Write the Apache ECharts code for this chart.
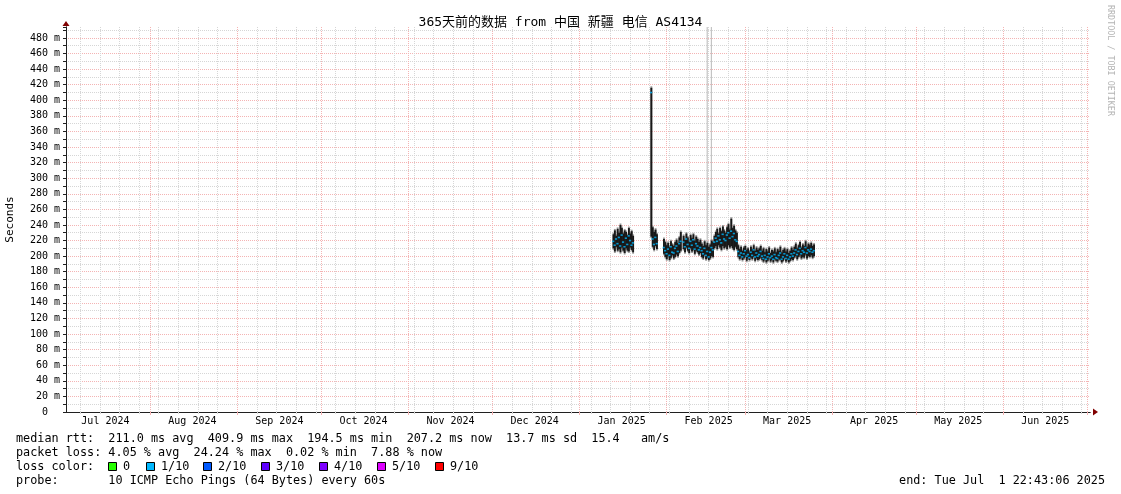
<!DOCTYPE html>
<html><head><meta charset="utf-8">
<script src="https://cdn.jsdelivr.net/npm/echarts@6/dist/echarts.min.js"></script>
<style>html,body{margin:0;padding:0;background:#fff}#c{width:1121px;height:494px}</style>
</head><body><div id="c"></div>
<script>
// ---------- data ----------
const TITLE = '365天前的数据 from 中国 新疆 电信 AS4134';
const START = Date.UTC(2024, 6, 1, 22, 43, 6);
const END = Date.UTC(2025, 6, 1, 22, 43, 6);
const monthLabels = ['Jul 2024','Aug 2024','Sep 2024','Oct 2024','Nov 2024','Dec 2024','Jan 2025','Feb 2025','Mar 2025','Apr 2025','May 2025','Jun 2025'];
const Y_MAX = 494;
const yMajor = 20, yMinor = 10;

// smoke / median samples every 12 h starting 2025-01-13 00:00 (null = no data)
const DATA_START = Date.UTC(2025, 0, 13);
const STEP = 12 * 3600 * 1000;
const N = null;
const smokeHigh = [
 228,233,226,235,230,240,236,229,233,231,227,236,229,232,226,
 N,N,N,N,N,N,N,N,N,N,N,N,
 416,237,231,234,228,
 N,N,N,N,
 222,218,214,217,212,219,215,213,218,221,217,224,231,
 N,
 226,221,229,224,219,227,223,228,220,225,222,218,221,
 216,213,219,214,217,212,215,220,218,
 226,231,235,229,236,232,238,233,230,237,241,234,248,236,239,233,230,
 214,209,212,207,211,213,208,210,206,212,209,214,207,211,208,210,213,
 207,210,205,209,206,211,204,208,206,210,205,209,207,212,205,208,210,206,209,204,207,211,208,
 212,216,210,214,218,211,215,213,219,212,216,214,217,213,215
];
const smokeLow = [
 210,206,212,207,209,205,211,207,204,210,207,206,211,208,205,
 N,N,N,N,N,N,N,N,N,N,N,N,
 225,212,208,213,209,
 N,N,N,N,
 203,199,196,200,195,198,201,197,199,202,200,204,207,
 N,
 209,205,211,207,204,210,206,208,203,207,205,202,204,
 199,197,201,196,198,195,197,200,199,
 210,213,209,214,211,208,213,210,212,209,214,211,213,210,208,212,209,
 199,196,198,195,197,199,194,197,195,198,196,199,194,197,195,196,198,
 195,193,196,192,194,197,193,195,192,196,194,193,196,195,192,194,197,193,195,192,194,196,195,
 198,200,196,199,201,197,199,198,202,197,200,199,201,198,200
];
const medianRtt = [
 219,214,222,216,224,213,227,218,212,223,215,226,220,214,217,
 N,N,N,N,N,N,N,N,N,N,N,N,
 409.9,222,215,224,216,
 N,N,N,N,
 211,207,203,209,201,212,205,204,210,213,206,216,219,
 N,
 218,212,222,215,210,219,214,221,209,216,213,208,211,
 207,203,210,201,206,199,205,211,208,
 218,223,219,226,221,217,228,222,220,227,230,223,232,225,229,221,219,
 206,201,204,199,203,207,200,202,198,205,201,208,199,204,200,202,206,
 200,197,201,196,199,203,198,200,196,202,198,197,201,204,196,199,203,197,201,196,199,203,200,
 204,208,202,206,210,203,207,205,211,204,208,206,209,205,207
];
// single pings far above the chart (light grey smoke spikes)
const outlierTimes = [Date.UTC(2025, 1, 15, 12), Date.UTC(2025, 1, 17, 0)];
const outlierFrom = [217, 215];
const outlierTo = [520, 520];

const rttStats = [211.0, 409.9, 194.5, 207.2, 13.7, 15.4];
const lossStats = [4.05, 24.24, 0.02, 7.88];
const lossLabels = ['0','1/10','2/10','3/10','4/10','5/10','9/10'];
const probeText = '10 ICMP Echo Pings (64 Bytes) every 60s';
const endText = 'end: Tue Jul  1 22:43:06 2025';

// ---------- styles ----------
const MONO = '"DejaVu Sans Mono", "Noto Sans CJK SC", monospace';
const lossColors = ['#26ff00','#00b8ff','#0059ff','#5e00ff','#7e00ff','#dd00ff','#ff0000'];
const MGRID = '#f4b4b4', GRID = '#d6d6d6', AXIS = '#202020', ARROW = '#800000';

// ---------- derived option data ----------
const DAY = 86400000;
const weekTicks = [];
for (let t = Date.UTC(2024, 6, 7); t <= END; t += 7 * DAY) weekTicks.push(t);
const monthTicks = [], labelTicks = [];
for (let k = 0; k < 12; k++) { monthTicks.push(Date.UTC(2024, 7 + k, 1)); labelTicks.push(Date.UTC(2024, 6 + k, 16)); }
const labelMap = new Map(labelTicks.map((t, i) => [t, monthLabels[i]]));

const smokeItems = [], medItems = [];
for (let i = 0; i < smokeHigh.length; i++) {
  const t = DATA_START + i * STEP;
  if (smokeHigh[i] != null) smokeItems.push([t, smokeLow[i], smokeHigh[i]]);
  if (medianRtt[i] != null) medItems.push([t, medianRtt[i]]);
}
const outlierItems = outlierTimes.map((t, i) => [t, outlierFrom[i], outlierTo[i]]);

function bandRender(pad, fill, fixedW) {
  return function (params, api) {
    const t = api.value(0);
    const a = api.coord([t - STEP / 2, api.value(2)]);
    const b = api.coord([t + STEP / 2, api.value(1)]);
    let x = a[0], w = b[0] - a[0] + 0.5;
    if (fixedW) { x = (a[0] + b[0]) / 2 - fixedW / 2; w = fixedW; }
    return { type: 'rect', shape: { x: x, y: a[1] - pad, width: w, height: b[1] - a[1] + 2 * pad },
      style: { fill: fill } };
  };
}

const colorCycle = [];
for (let v = 0; v <= 490; v += yMinor) colorCycle.push(v % yMajor === 0 ? MGRID : GRID);

const chart = echarts.init(document.getElementById('c'), null, { renderer: 'canvas' });

const graphics = [];
function txt(x, y, s, opts) {
  graphics.push(Object.assign({ type: 'text', x: x, y: y, silent: true,
    style: Object.assign({ text: s, font: '11.8px ' + MONO, fill: '#000', align: 'left', verticalAlign: 'middle' }, opts || {}) }));
}
const line1 = 'median rtt:  ' + rttStats[0].toFixed(1) + ' ms avg  ' + rttStats[1].toFixed(1) + ' ms max  ' +
  rttStats[2].toFixed(1) + ' ms min  ' + rttStats[3].toFixed(1) + ' ms now  ' + rttStats[4].toFixed(1) + ' ms sd  ' +
  rttStats[5].toFixed(1) + '   am/s';
const line2 = 'packet loss: ' + lossStats[0].toFixed(2) + ' % avg  ' + lossStats[1].toFixed(2) + ' % max  ' +
  lossStats[2].toFixed(2) + ' % min  ' + lossStats[3].toFixed(2) + ' % now';
txt(16, 439, line1);
txt(16, 453, line2);
txt(16, 467, 'loss color:');
const boxX = [108, 146, 203, 261, 319, 377, 435];
lossLabels.forEach((l, i) => {
  graphics.push({ type: 'rect', silent: true, shape: { x: boxX[i] + 0.5, y: 462.5, width: 8, height: 8 },
    style: { fill: lossColors[i], stroke: '#000', lineWidth: 1 } });
  txt(boxX[i] + 15, 467, l);
});
txt(16, 481, 'probe:       ' + probeText);
txt(1105, 481, endText, { align: 'right' });
graphics.push({ type: 'text', x: 1110, y: 5, rotation: -Math.PI / 2, silent: true,
  style: { text: 'RRDTOOL / TOBI OETIKER', font: '8.4px ' + MONO, fill: '#b4b4b4', align: 'left', verticalAlign: 'middle' } });

chart.setOption({
  animation: false,
  backgroundColor: '#ffffff',
  title: { text: TITLE, left: 'center', top: 11,
    textStyle: { fontFamily: MONO, fontSize: 13, fontWeight: 'normal', color: '#000' } },
  grid: { left: 66, right: 31, top: 27, bottom: 82, containLabel: false, outerBoundsMode: 'none' },
  xAxis: [
    { type: 'value', min: START, max: END, position: 'bottom', z: 1,
      axisLine: { show: true, onZero: false, lineStyle: { color: AXIS, width: 1 } },
      axisTick: { show: true, length: 2, lineStyle: { color: GRID }, customValues: weekTicks },
      axisLabel: { show: false },
      splitLine: { show: true, lineStyle: { color: GRID, width: 1, type: [1, 1] } } },
    { type: 'value', min: START, max: END, position: 'bottom', z: 1,
      axisLine: { show: false },
      axisTick: { show: true, length: 3, lineStyle: { color: MGRID }, customValues: monthTicks },
      axisLabel: { show: true, customValues: labelTicks, margin: 4, fontFamily: MONO, fontSize: 10, color: '#000',
        formatter: v => labelMap.get(v) || '' },
      splitLine: { show: true, lineStyle: { color: MGRID, width: 1, type: [1, 1] } } },
    { type: 'value', min: START, max: END, position: 'bottom', z: 0,
      axisLine: { show: true, onZero: false, symbol: ['none', 'triangle'], symbolSize: [7, 5], symbolOffset: [0, 5.5],
        lineStyle: { color: ARROW, width: 1 } },
      axisTick: { show: false }, axisLabel: { show: false }, splitLine: { show: false } }
  ],
  yAxis: [
    { type: 'value', min: 0, max: Y_MAX, interval: yMinor, position: 'left', z: 1,
      name: 'Seconds', nameLocation: 'middle', nameGap: 50,
      nameTextStyle: { fontFamily: MONO, fontSize: 11, color: '#000' },
      axisLine: { show: true, onZero: false, lineStyle: { color: AXIS, width: 1 } },
      axisTick: { show: true, length: 3, lineStyle: { color: AXIS } },
      axisLabel: { margin: 6, fontFamily: MONO, fontSize: 10, color: '#000',
        formatter: v => (v % yMajor !== 0 ? '' : (v === 0 ? '0  ' : v + ' m')) },
      splitLine: { show: true, showMaxLine: false, lineStyle: { color: colorCycle, width: 1, type: [1, 1] } } },
    { type: 'value', min: 0, max: Y_MAX, position: 'left', z: 0,
      axisLine: { show: true, onZero: false, symbol: ['none', 'triangle'], symbolSize: [7, 5], symbolOffset: [0, 3.5],
        lineStyle: { color: ARROW, width: 1 } },
      axisTick: { show: false }, axisLabel: { show: false }, splitLine: { show: false } }
  ],
  graphic: graphics,
  series: [
    { type: 'custom', name: 'outliers', xAxisIndex: 0, yAxisIndex: 0, clip: true, silent: true, z: 2,
      encode: { x: 0, y: [1, 2] }, renderItem: bandRender(0, '#c4c4c4', 1.2), data: outlierItems },
    { type: 'custom', name: 'smoke halo', xAxisIndex: 0, yAxisIndex: 0, clip: true, silent: true, z: 3,
      encode: { x: 0, y: [1, 2] }, renderItem: bandRender(1.5, '#999999'), data: smokeItems },
    { type: 'custom', name: 'smoke', xAxisIndex: 0, yAxisIndex: 0, clip: true, silent: true, z: 4,
      encode: { x: 0, y: [1, 2] }, renderItem: bandRender(0, '#181818'), data: smokeItems },
    { type: 'scatter', name: 'median rtt', xAxisIndex: 0, yAxisIndex: 0, silent: true, z: 5,
      symbol: 'rect', symbolSize: [2.2, 1.6], itemStyle: { color: lossColors[1] }, data: medItems }
  ]
});
</script></body></html>
